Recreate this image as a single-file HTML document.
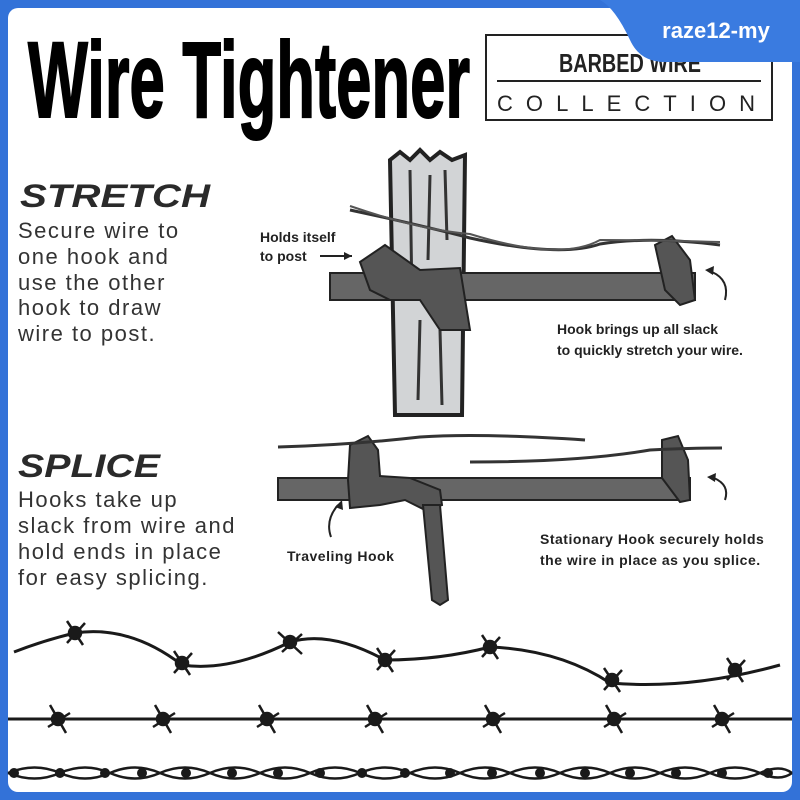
<!DOCTYPE html>
<html><head><meta charset="utf-8"><style>
html,body{margin:0;padding:0;background:#2f6fd6;}
svg{display:block}
</style></head><body>
<svg width="800" height="800" viewBox="0 0 800 800" xmlns="http://www.w3.org/2000/svg" font-family="Liberation Sans, sans-serif">
<rect x="0" y="0" width="800" height="800" fill="#3372d8"/>
<rect x="8" y="8" width="784" height="784" rx="10" fill="#fff"/>
<!-- title -->
<text x="28" y="117" font-size="108" font-weight="bold" fill="#000" stroke="#000" stroke-width="2" textLength="442" lengthAdjust="spacingAndGlyphs">Wire Tightener</text>
<rect x="486" y="35" width="286" height="85" fill="none" stroke="#222" stroke-width="2"/>
<text x="630" y="72" font-size="26" font-weight="bold" fill="#222" text-anchor="middle" textLength="142" lengthAdjust="spacingAndGlyphs">BARBED WIRE</text>
<line x1="497" y1="81" x2="761" y2="81" stroke="#222" stroke-width="2"/>
<text x="497" y="111" font-size="22" fill="#222" textLength="258" lengthAdjust="spacing">COLLECTION</text>
<!-- badge -->
<path d="M600 0 H800 V62 H665 Q640 62 630 40 Q615 8 600 0 Z" fill="#3a7be0"/>
<text x="716" y="38" font-size="22" font-weight="bold" fill="#fff" text-anchor="middle">raze12-my</text>

<!-- left text -->
<text x="20" y="207" font-size="32" font-weight="bold" font-style="italic" fill="#2a2a2a" textLength="190" lengthAdjust="spacingAndGlyphs">STRETCH</text>
<g font-size="22" fill="#333" letter-spacing="1.5">
<text x="18" y="238">Secure wire to</text>
<text x="18" y="264">one hook and</text>
<text x="18" y="290">use the other</text>
<text x="18" y="315">hook to draw</text>
<text x="18" y="341">wire to post.</text>
</g>
<text x="18" y="477" font-size="32" font-weight="bold" font-style="italic" fill="#2a2a2a" textLength="142" lengthAdjust="spacingAndGlyphs">SPLICE</text>
<g font-size="22" fill="#333" letter-spacing="1.5">
<text x="18" y="507">Hooks take up</text>
<text x="18" y="533">slack from wire and</text>
<text x="18" y="559">hold ends in place</text>
<text x="18" y="585">for easy splicing.</text>
</g>

<!-- post -->
<path d="M390 160 L400 152 L410 160 L420 150 L430 160 L440 152 L452 160 L465 155 L462 415 L395 415 Z" fill="#d2d4d6" stroke="#222" stroke-width="4"/>
<path d="M410 170 L412 300 M430 175 L428 260 M445 170 L447 240 M420 320 L418 400 M440 330 L442 405" stroke="#333" stroke-width="3" fill="none"/>
<!-- stretch tool -->
<path d="M330 273 H695 V300 H330 Z" fill="#666" stroke="#222" stroke-width="2"/>
<path d="M360 262 L385 245 L420 270 L460 268 L470 330 L440 330 L420 300 L390 300 L370 290 Z" fill="#555" stroke="#222" stroke-width="2"/>
<path d="M655 245 L672 236 L690 260 L695 300 L680 305 L665 290 Z" fill="#555" stroke="#222" stroke-width="2"/>
<path d="M350 210 Q420 225 470 238 Q560 258 600 244 Q650 236 720 245" stroke="#333" stroke-width="3" fill="none"/>
<path d="M350 206 Q420 230 470 234 Q560 262 600 240 Q650 240 720 242" stroke="#555" stroke-width="2" fill="none"/>
<path d="M320 256 H352" stroke="#222" stroke-width="2"/><path d="M352 256 l-8 -4 v8z" fill="#222"/>
<path d="M725 300 Q730 280 712 272" stroke="#222" stroke-width="2" fill="none"/><path d="M705 270 l9 -4 l-1 9z" fill="#222"/>
<g font-size="14" font-weight="bold" fill="#222">
<text x="260" y="242">Holds itself</text>
<text x="260" y="261">to post</text>
<text x="557" y="334">Hook brings up all slack</text>
<text x="557" y="355">to quickly stretch your wire.</text>
</g>
<!-- splice tool -->
<path d="M278 478 H690 V500 H278 Z" fill="#666" stroke="#222" stroke-width="2"/>
<path d="M350 445 L368 436 L378 450 L380 476 L410 478 L440 490 L442 505 L425 510 L405 500 L380 505 L350 508 L348 480 Z" fill="#555" stroke="#222" stroke-width="2"/>
<path d="M423 505 L440 505 L448 600 L440 605 L432 600 Z" fill="#555" stroke="#222" stroke-width="2"/>
<path d="M662 440 L678 436 L688 460 L690 500 L680 502 L662 478 Z" fill="#555" stroke="#222" stroke-width="2"/>
<path d="M278 447 Q350 445 420 437 Q480 433 585 440" stroke="#333" stroke-width="3" fill="none"/>
<path d="M470 462 Q580 462 650 450 Q690 448 722 448" stroke="#333" stroke-width="3" fill="none"/>
<path d="M331 537 Q325 520 338 505" stroke="#222" stroke-width="2" fill="none"/><path d="M342 500 l1 10 l-8 -3z" fill="#222"/>
<path d="M725 500 Q730 485 714 478" stroke="#222" stroke-width="2" fill="none"/><path d="M707 477 l9 -4 l-1 9z" fill="#222"/>
<g font-size="14" font-weight="bold" fill="#222" letter-spacing="0.5">
<text x="287" y="561">Traveling Hook</text>
<text x="540" y="544">Stationary Hook securely holds</text>
<text x="540" y="565">the wire in place as you splice.</text>
</g>

<!-- bottom wires -->
<path d="M14 652 Q45 640 75 633 Q130 625 182 665 Q230 672 290 642 Q330 630 385 660 Q440 660 490 647 Q560 650 610 683 Q690 690 780 665" stroke="#1a1a1a" stroke-width="3" fill="none"/>
<g fill="#1a1a1a" stroke="#1a1a1a" stroke-width="2.5">
<g transform="translate(75,633)"><circle r="6"/><path d="M-8 -12 L8 12 M10 -10 L-8 10"/></g>
<g transform="translate(182,663)"><circle r="6"/><path d="M-8 -12 L8 12 M10 -10 L-8 10"/></g>
<g transform="translate(290,642)"><circle r="6"/><path d="M-12 -10 L12 12 M12 -8 L-8 10"/></g>
<g transform="translate(385,660)"><circle r="6"/><path d="M-8 -12 L8 12 M10 -10 L-8 10"/></g>
<g transform="translate(490,647)"><circle r="6"/><path d="M-8 -12 L8 12 M10 -10 L-8 10"/></g>
<g transform="translate(612,680)"><circle r="6"/><path d="M-8 -12 L8 12 M10 -10 L-8 10"/></g>
<g transform="translate(735,670)"><circle r="6"/><path d="M-8 -12 L8 12 M10 -10 L-8 10"/></g>
</g>
<line x1="8" y1="719" x2="792" y2="719" stroke="#1a1a1a" stroke-width="3"/>
<g fill="#1a1a1a" stroke="#1a1a1a" stroke-width="2.5">
<g transform="translate(58,719)"><circle r="6"/><path d="M-8 -14 L8 14 M12 -6 L-10 8"/></g>
<g transform="translate(163,719)"><circle r="6"/><path d="M-8 -14 L8 14 M12 -6 L-10 8"/></g>
<g transform="translate(267,719)"><circle r="6"/><path d="M-8 -14 L8 14 M12 -6 L-10 8"/></g>
<g transform="translate(375,719)"><circle r="6"/><path d="M-8 -14 L8 14 M12 -6 L-10 8"/></g>
<g transform="translate(493,719)"><circle r="6"/><path d="M-8 -14 L8 14 M12 -6 L-10 8"/></g>
<g transform="translate(614,719)"><circle r="6"/><path d="M-8 -14 L8 14 M12 -6 L-10 8"/></g>
<g transform="translate(722,719)"><circle r="6"/><path d="M-8 -14 L8 14 M12 -6 L-10 8"/></g>
</g>
<path d="M8 773 Q35 762 60 773 Q85 784 110 773 Q135 762 160 773 Q185 784 210 773 Q235 762 260 773 Q285 784 310 773 Q335 762 360 773 Q385 784 410 773 Q435 762 460 773 Q485 784 510 773 Q535 762 560 773 Q585 784 610 773 Q635 762 660 773 Q685 784 710 773 Q735 762 760 773 Q780 782 792 773" stroke="#1a1a1a" stroke-width="2.5" fill="none"/>
<path d="M8 773 Q35 784 60 773 Q85 762 110 773 Q135 784 160 773 Q185 762 210 773 Q235 784 260 773 Q285 762 310 773 Q335 784 360 773 Q385 762 410 773 Q435 784 460 773 Q485 762 510 773 Q535 784 560 773 Q585 762 610 773 Q635 784 660 773 Q685 762 710 773 Q735 784 760 773 Q780 764 792 773" stroke="#1a1a1a" stroke-width="2.5" fill="none"/>
<g fill="#1a1a1a">
<circle cx="14" cy="773" r="5"/><circle cx="60" cy="773" r="5"/><circle cx="105" cy="773" r="5"/><circle cx="142" cy="773" r="5"/><circle cx="186" cy="773" r="5"/><circle cx="232" cy="773" r="5"/><circle cx="278" cy="773" r="5"/><circle cx="320" cy="773" r="5"/><circle cx="362" cy="773" r="5"/><circle cx="405" cy="773" r="5"/><circle cx="450" cy="773" r="5"/><circle cx="492" cy="773" r="5"/><circle cx="540" cy="773" r="5"/><circle cx="585" cy="773" r="5"/><circle cx="630" cy="773" r="5"/><circle cx="676" cy="773" r="5"/><circle cx="722" cy="773" r="5"/><circle cx="768" cy="773" r="5"/>
</g>
</svg>
</body></html>
